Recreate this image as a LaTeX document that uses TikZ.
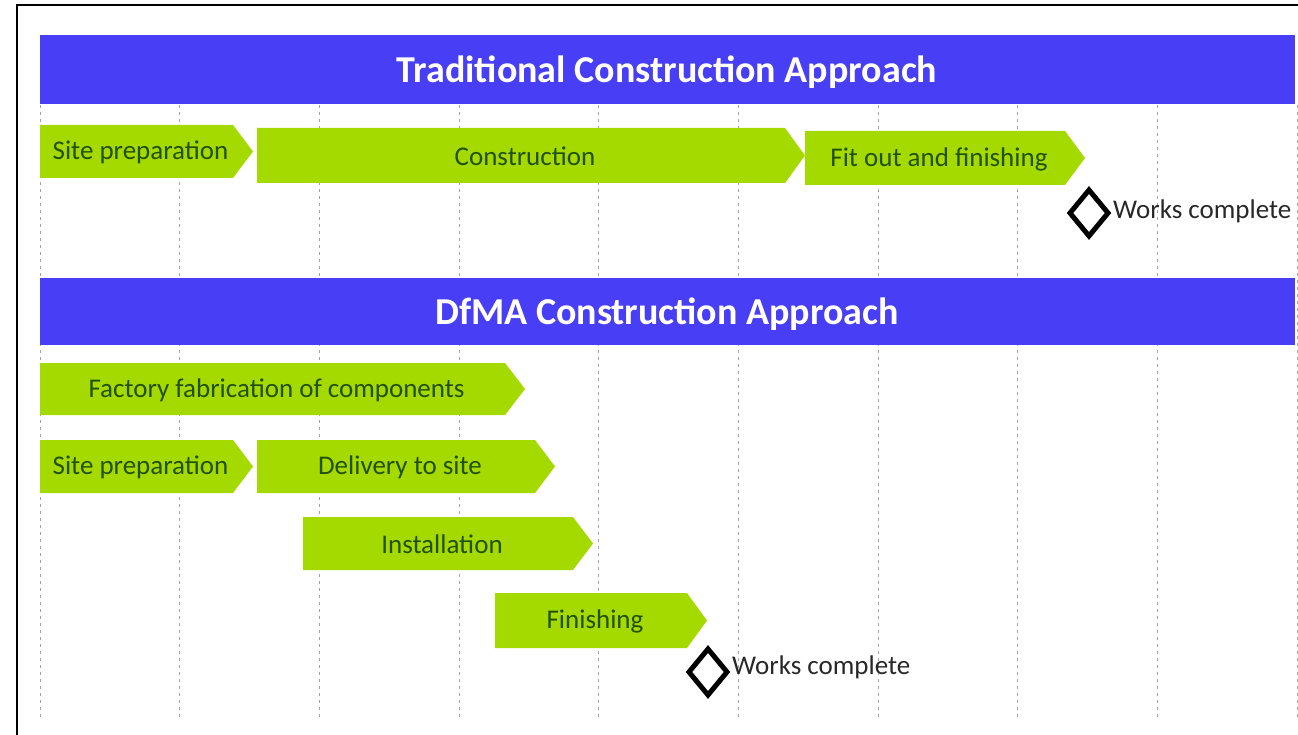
\documentclass[tikz,border=0pt]{standalone}
\usepackage{fontspec}
\setmainfont{Carlito}
\usetikzlibrary{calc}
\definecolor{hdrblue}{RGB}{72,62,245}
\definecolor{bargreen}{RGB}{164,218,0}
\definecolor{lbltext}{RGB}{36,80,14}
\definecolor{gridgray}{RGB}{165,165,165}
\definecolor{mstext}{RGB}{40,40,40}
\tikzset{
  gridline/.style={gridgray, line width=0.9pt, dash pattern=on 3pt off 4pt},
  hdrbar/.style={fill=hdrblue},
  hdrtext/.style={text=white, font=\fontsize{38}{42}\selectfont\bfseries, inner sep=0pt},
  barfill/.style={fill=bargreen},
  bartext/.style={text=lbltext, font=\fontsize{27}{30}\selectfont, inner sep=0pt},
  milestone/.style={draw=black, line width=5pt, fill=white},
  mstxt/.style={text=mstext, font=\fontsize{27}{30}\selectfont, inner sep=0pt, anchor=west},
  frameline/.style={black, line width=1.6pt}
}
% \gbar{name}{x1}{x2}{y1}{y2}{text}
\newcommand{\gbar}[6]{%
  \fill[barfill] (#2,#4) -- (#3-20,#4) -- (#3,{(#4+#5)/2}) -- (#3-20,#5) -- (#2,#5) -- cycle;
  \node[bartext] (#1) at ({(#2+#3-20)/2+4},{(#4+#5)/2+1}) {#6};
}
\newcommand{\milestonemark}[4]{%
  \draw[milestone] (#2-19,#3) -- (#2,#3-23) -- (#2+19,#3) -- (#2,#3+23) -- cycle;
  \coordinate (#1) at (#2,#3);
}
\begin{document}
\begin{tikzpicture}[x=1pt,y=-1pt]
\useasboundingbox (0,0) rectangle (1298,735);
\fill[white] (0,0) rectangle (1298,735);
% grid
\foreach \i in {0,...,9} {
  \draw[gridline] ({40+139.7*\i},105) -- ({40+139.7*\i},718);
}
% frame
\draw[frameline] (17,736) -- (17,5) -- (1299,5);
% headers
\fill[hdrbar] (40,35) rectangle (1295,104);
\node[hdrtext] (h1) at (667,72) {Traditional Construction Approach};
\fill[hdrbar] (40,278) rectangle (1295,345);
\node[hdrtext] (h2) at (667,314) {DfMA Construction Approach};
% traditional
\gbar{t1}{40}{253}{125}{178}{Site preparation}
\gbar{t2}{257}{805}{128}{183}{Construction}
\gbar{t3}{805}{1085}{131}{185}{Fit out and finishing}
\milestonemark{m1}{1089}{213}{}
\node[mstxt] (m1t) at (1113,211) {Works complete};
% DfMA
\gbar{d1}{40}{525}{363}{415}{Factory fabrication of components}
\gbar{d2}{40}{253}{440}{493}{Site preparation}
\gbar{d3}{257}{555}{440}{493}{Delivery to site}
\gbar{d4}{303}{593}{517}{570}{Installation}
\gbar{d5}{495}{707}{593}{648}{Finishing}
\milestonemark{m2}{708}{672}{}
\node[mstxt] (m2t) at (732,667) {Works complete};
\end{tikzpicture}
\end{document}
